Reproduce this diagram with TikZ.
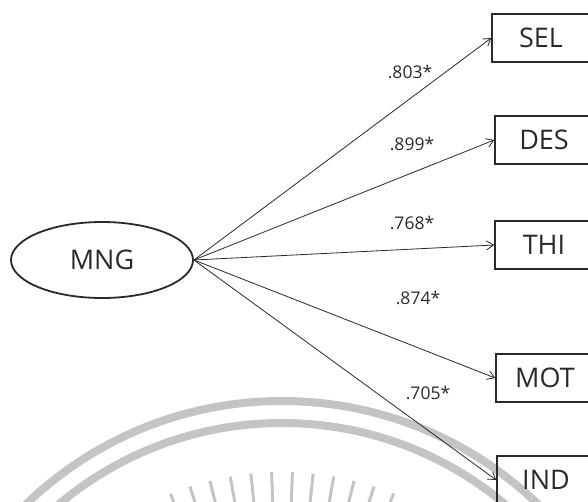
\documentclass[tikz,border=0pt]{standalone}
\usepackage{fontspec}
\setmainfont{Open Sans}
\usepackage{xcolor}
\usetikzlibrary{arrows.meta,shapes.geometric,calc}

\definecolor{inkgray}{HTML}{2A2A2A}
\definecolor{stampgray}{HTML}{C4C4C4}

\tikzset{
  latentnode/.style={draw=inkgray,ellipse,line width=1.8pt,minimum width=182pt,
    minimum height=76pt,inner sep=0pt,text=inkgray,font=\fontsize{27}{30}\selectfont},
  obsbox/.style={draw=inkgray,line width=1.5pt,minimum width=98pt,minimum height=48pt,
    inner sep=0pt,text=inkgray,font=\fontsize{27}{30}\selectfont},
  loadlab/.style={text=inkgray,inner sep=0pt,font=\fontsize{17.5}{20}\selectfont},
  loadarrow/.style={->,line width=0.8pt,draw=inkgray},
  stamparc/.style={draw=stampgray,line width=8pt},
  stampray/.style={draw=stampgray,line width=3pt}
}

\begin{document}
\begin{tikzpicture}[x=1pt,y=-1pt,>={Straight Barb[length=7pt,width=9pt]}]
  \useasboundingbox (0,0) rectangle (588,501);
  \clip (0,0) rectangle (588,501);
  \fill[white] (0,0) rectangle (588,501);
  % seal in the background
  \coordinate (wmc) at (282,770);
  \draw[stamparc] (wmc) circle (369);
  \draw[stamparc] (wmc) circle (347);
  \foreach \a in {-112,-108,...,-68}
    \draw[stampray] ($(wmc)+(\a:298)$) -- ($(wmc)+(\a:240)$);
  % latent variable and indicators
  \node[latentnode] (MNG) at (102,260) {MNG};
  \foreach \name/\x/\y in {SEL/541/38,DES/544/140,THI/544/245,MOT/545/378,IND/546/480}
    \node[obsbox] (\name) at (\x,\y) {\name};
  % loadings
  \foreach \name/\val/\lx/\ly in {SEL/.803/410/72,DES/.899/412/144,THI/.768/412/223,
      MOT/.874/418/298,IND/.705/428/393} {
    \draw[loadarrow] (MNG.east) -- (\name.west);
    \node[loadlab] (l\name) at (\lx,\ly) {\val*};
  }
\end{tikzpicture}
\end{document}
